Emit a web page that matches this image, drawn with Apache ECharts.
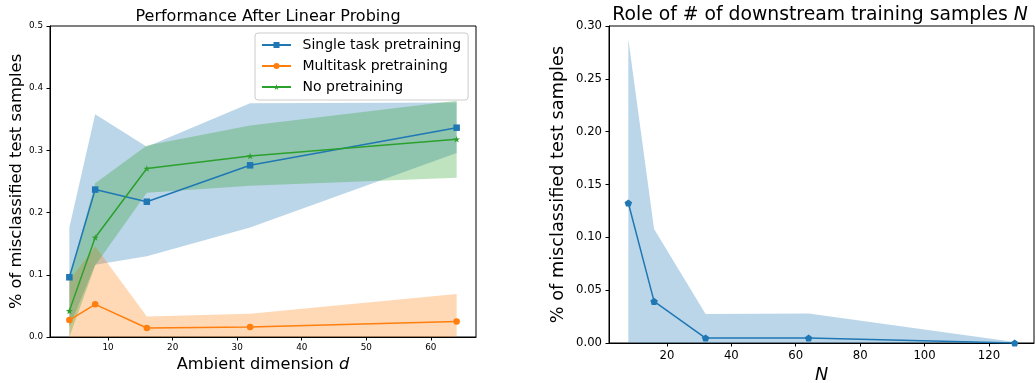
<!DOCTYPE html>
<html>
<head>
<meta charset="utf-8">
<script src="https://cdn.jsdelivr.net/npm/echarts@6/dist/echarts.min.js"></script>
<style>
html,body{margin:0;padding:0;background:#fff;}
#chart{width:1035px;height:383px;}
</style>
</head>
<body>
<div id="chart"></div>
<script>
// ---- Left panel data ----
const dims = [4, 8, 16, 32, 64];
const singleMean = [0.096, 0.237, 0.2175, 0.276, 0.3365];
const singleUpper = [0.176, 0.358, 0.306, 0.376, 0.377];
const singleLower = [0.016, 0.116, 0.130, 0.176, 0.296];
const multiMean = [0.0273, 0.0525, 0.0145, 0.016, 0.025];
const multiUpper = [0.091, 0.146, 0.033, 0.0375, 0.069];
const multiLower = [0.0, 0.0, 0.0, 0.0, 0.0];
const noneMean = [0.042, 0.160, 0.271, 0.291, 0.318];
const noneUpper = [0.095, 0.247, 0.308, 0.340, 0.380];
const noneLower = [0.0, 0.115, 0.232, 0.243, 0.256];
const leftXTicks = [10, 20, 30, 40, 50, 60];

// ---- Right panel data ----
const nSamples = [8, 16, 32, 64, 128];
const nMean = [0.1325, 0.0394, 0.0047, 0.0047, 0.0];
const nUpper = [0.2877, 0.1079, 0.0274, 0.028, 0.001];
const nLower = [0.0, 0.0, 0.0, 0.0, 0.0];
const rightXTicks = [20, 40, 60, 80, 100, 120];

const FONT = 'DejaVu Sans';
const BLUE = '#1f77b4', ORANGE = '#ff7f0e', GREEN = '#2ca02c';

const STAR = 'path://M0,-1L0.2234,-0.3074L0.9511,-0.309L0.3614,0.1174L0.5878,0.809L0,0.38L-0.5878,0.809L-0.3614,0.1174L-0.9511,-0.309L-0.2234,-0.3074Z';
const PENTA = 'path://M0,-1L0.9511,-0.309L0.5878,0.809L-0.5878,0.809L-0.9511,-0.309Z';

function zip(xs, ys) { return xs.map((x, i) => [x, ys[i]]); }

function band(xs, lo, hi, fill, idx) {
  return {
    type: 'custom', xAxisIndex: idx, yAxisIndex: idx, silent: true, z: 1,
    data: [0],
    renderItem: function (params, api) {
      const pts = [];
      for (let i = 0; i < xs.length; i++) pts.push(api.coord([xs[i], hi[i]]));
      for (let i = xs.length - 1; i >= 0; i--) pts.push(api.coord([xs[i], lo[i]]));
      return { type: 'polygon', shape: { points: pts }, style: { fill: fill } };
    }
  };
}

function line(name, xs, ys, color, symbol, size, idx) {
  return {
    type: 'line', name: name, xAxisIndex: idx, yAxisIndex: idx, z: 3,
    data: zip(xs, ys), symbol: symbol, symbolSize: size, symbolKeepAspect: true,
    showAllSymbol: true,
    lineStyle: { color: color, width: 1.5 },
    itemStyle: { color: color },
    emphasis: { disabled: true },
    animation: false
  };
}

const axisCommon = {
  axisLine: { show: true, onZero: false, lineStyle: { color: '#000', width: 1 } },
  axisTick: { show: true, inside: false, length: 3.5, lineStyle: { color: '#000', width: 1 } },
  splitLine: { show: false }
};

const chart = echarts.init(document.getElementById('chart'), null, { renderer: 'canvas' });
chart.setOption({
  animation: false,
  backgroundColor: '#fff',
  textStyle: { fontFamily: FONT },
  title: [
    { text: 'Performance After Linear Probing', left: 263, top: 4, textAlign: 'center',
      textStyle: { fontFamily: FONT, fontSize: 16, fontWeight: 'normal', color: '#000' } },
    { text: 'Role of # of downstream training samples {i|N}', left: 815, top: 1, textAlign: 'center',
      textStyle: { fontFamily: FONT, fontSize: 18.8, fontWeight: 'normal', color: '#000',
        rich: { i: { fontFamily: FONT, fontSize: 18.8, fontStyle: 'italic', color: '#000' } } } }
  ],
  grid: [
    { left: 50, top: 26, width: 426, height: 311, show: true, borderColor: '#000', borderWidth: 1,
      backgroundColor: 'transparent', containLabel: false, outerBoundsMode: 'none' },
    { left: 609, top: 26, width: 425, height: 317, show: true, borderColor: '#000', borderWidth: 1,
      backgroundColor: 'transparent', containLabel: false, outerBoundsMode: 'none' }
  ],
  legend: {
    left: 255, top: 33, orient: 'vertical',
    data: ['Single task pretraining', 'Multitask pretraining', 'No pretraining'],
    itemWidth: 29, itemHeight: 7.5, itemGap: 7,
    padding: [5, 7, 6, 6],
    backgroundColor: 'rgba(255,255,255,0.8)', borderColor: '#cccccc', borderWidth: 1, borderRadius: 3,
    textStyle: { fontFamily: FONT, fontSize: 14, color: '#000', padding: [0, 0, 0, 6.5] },
    selectedMode: false
  },
  xAxis: [
    Object.assign({}, axisCommon, {
      type: 'value', gridIndex: 0, min: 1, max: 67,
      axisTick: Object.assign({}, axisCommon.axisTick, { customValues: leftXTicks }),
      axisLabel: { customValues: leftXTicks, fontFamily: FONT, fontSize: 8.8, color: '#000', margin: 6 },
      name: 'Ambient dimension {i|d}', nameLocation: 'middle', nameGap: 16,
      nameTextStyle: { fontFamily: FONT, fontSize: 16.2, color: '#000',
        rich: { i: { fontFamily: FONT, fontSize: 16.2, fontStyle: 'italic', color: '#000' } } }
    }),
    Object.assign({}, axisCommon, {
      type: 'value', gridIndex: 1, min: 2, max: 134,
      axisTick: Object.assign({}, axisCommon.axisTick, { customValues: rightXTicks }),
      axisLabel: { customValues: rightXTicks, fontFamily: FONT, fontSize: 11.7, color: '#000', margin: 6.5 },
      name: '{i|N}', nameLocation: 'middle', nameGap: 23,
      nameTextStyle: { fontFamily: FONT, fontSize: 17.7, color: '#000',
        rich: { i: { fontFamily: FONT, fontSize: 17.7, fontStyle: 'italic', color: '#000' } } }
    })
  ],
  yAxis: [
    Object.assign({}, axisCommon, {
      type: 'value', gridIndex: 0, min: 0, max: 0.5, interval: 0.1,
      axisLabel: { fontFamily: FONT, fontSize: 8.8, color: '#000', margin: 7,
        formatter: v => v.toFixed(1) },
      name: '% of misclassified test samples', nameLocation: 'middle', nameGap: 25, nameRotate: 90,
      nameTextStyle: { fontFamily: FONT, fontSize: 16.3, color: '#000' }
    }),
    Object.assign({}, axisCommon, {
      type: 'value', gridIndex: 1, min: 0, max: 0.3, interval: 0.05,
      axisLabel: { fontFamily: FONT, fontSize: 11.7, color: '#000', margin: 7,
        formatter: v => v.toFixed(2) },
      name: '% of misclassified test samples', nameLocation: 'middle', nameGap: 42, nameRotate: 90,
      nameTextStyle: { fontFamily: FONT, fontSize: 17.7, color: '#000' }
    })
  ],
  series: [
    band(dims, singleLower, singleUpper, 'rgba(31,119,180,0.3)', 0),
    band(dims, multiLower, multiUpper, 'rgba(255,127,14,0.3)', 0),
    band(dims, noneLower, noneUpper, 'rgba(44,160,44,0.3)', 0),
    line('Single task pretraining', dims, singleMean, BLUE, 'rect', 6.5, 0),
    line('Multitask pretraining', dims, multiMean, ORANGE, 'circle', 6.5, 0),
    line('No pretraining', dims, noneMean, GREEN, STAR, 7, 0),
    band(nSamples, nLower, nUpper, 'rgba(31,119,180,0.3)', 1),
    line('N', nSamples, nMean, BLUE, PENTA, 7.5, 1)
  ]
});
</script>
</body>
</html>
